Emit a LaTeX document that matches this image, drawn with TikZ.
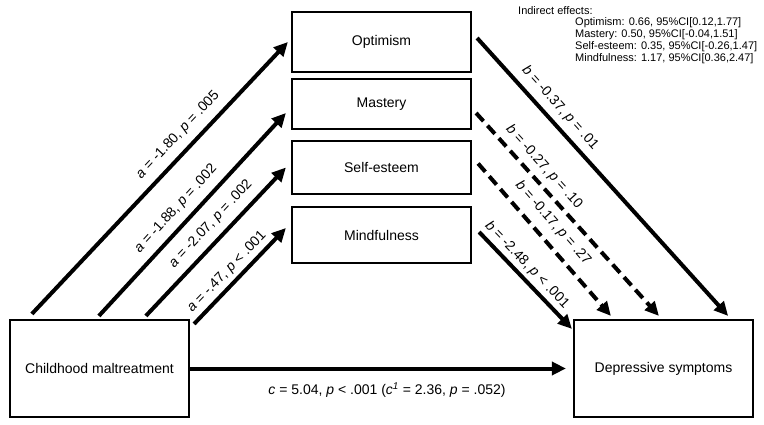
\documentclass[tikz,border=0pt]{standalone}
\usepackage{fontspec}
\setmainfont{Liberation Sans}
\usetikzlibrary{arrows.meta,calc}
\begin{document}
\begin{tikzpicture}[x=1pt,y=-1pt,
 box/.style={draw,line width=2.2pt,minimum width=179pt,inner sep=0pt,font=\fontsize{14}{16}\selectfont},
 arr/.style={line width=4pt,-{Triangle[length=14pt,width=13pt]}},
 dsh/.style={dash pattern=on 11pt off 6pt},
 lab/.style={font=\fontsize{14}{16}\selectfont,inner sep=0pt},
 ie/.style={font=\fontsize{11}{12}\selectfont,inner sep=0pt,anchor=west}]
\useasboundingbox (0,0) rectangle (764,425);

% boxes
\node[box,minimum height=60pt] (Opt) at (381.5,42) {Optimism};
\node[box,minimum height=50pt] (Mas) at (381.5,104) {Mastery};
\node[box,minimum height=53pt] (Sel) at (381.5,167.5) {Self-esteem};
\node[box,minimum height=56pt] (Min) at (381.5,235) {Mindfulness};
\node[box,minimum height=97pt] (CM) at (99.5,368.5) {Childhood maltreatment};
\node[box,minimum height=97pt] (DS) at (663.5,368.5) {Depressive symptoms};

% a paths
\draw[arr] ($(CM.north west)+(23,-5)$) -- ($(Opt.west)+(-3,0)$);
\draw[arr] ($(CM.north west)+(90,-3)$) -- ($(Mas.west)+(-5,9)$);
\draw[arr] ($(CM.north west)+(137,-3)$) -- ($(Sel.west)+(-5,0)$);
\draw[arr] ($(CM.north east)+(4,5)$) -- ($(Min.west)+(-5,-7)$);

% b paths
\draw[arr] ($(Opt.east)+(5,-4)$) -- ($(DS.north east)+(-26,-3)$);
\draw[arr,dsh] ($(Mas.east)+(4,9)$) -- ($(DS.north west)+(86,-3)$);
\draw[arr,dsh] ($(Sel.east)+(6,-4)$) -- ($(DS.north west)+(38,-3)$);
\draw[arr] ($(Min.east)+(7,-3)$) -- ($(DS.north west)+(-1,10)$);

% c path
\draw[arr] (CM.east) -- ($(DS.west)+(-7,0)$);

% labels
\node[lab,rotate=46.8] (la1) at (178,135) {\textit{a} = -1.80, \textit{p} = .005};
\node[lab,rotate=47.5] (la2) at (176,209) {\textit{a} = -1.88, \textit{p} = .002};
\node[lab,rotate=47] (la3) at (211,224) {\textit{a} = -2.07, \textit{p} = .002};
\node[lab,rotate=46] (la4) at (227,272) {\textit{a} = -.47, \textit{p} < .001};
\node[lab,rotate=-48] (lb1) at (560,108) {\textit{b} = -0.37, \textit{p} = .01};
\node[lab,rotate=-47.8] (lb2) at (544,167) {\textit{b} = -0.27, \textit{p} = .10};
\node[lab,rotate=-48.8] (lb3) at (553,223) {\textit{b} = -0.17, \textit{p} = .27};
\node[lab,rotate=-46] (lb4) at (527,265) {\textit{b} = -2.48, \textit{p} < .001};
\node[lab] (lc) at (387,390) {\textit{c} = 5.04, \textit{p} < .001 (\textit{c}\textsuperscript{\textit{1}} = 2.36, \textit{p} = .052)};

% indirect effects
\node[ie] (ie0) at (518,11) {Indirect effects:};
\node[ie] (ie1) at (575,23) {Optimism: 0.66, 95\%CI[0.12,1.77]};
\node[ie] (ie2) at (575,35) {Mastery: 0.50, 95\%CI[-0.04,1.51]};
\node[ie] (ie3) at (575,47) {Self-esteem: 0.35, 95\%CI[-0.26,1.47]};
\node[ie] (ie4) at (575,59) {Mindfulness: 1.17, 95\%CI[0.36,2.47]};
\end{tikzpicture}
\end{document}
